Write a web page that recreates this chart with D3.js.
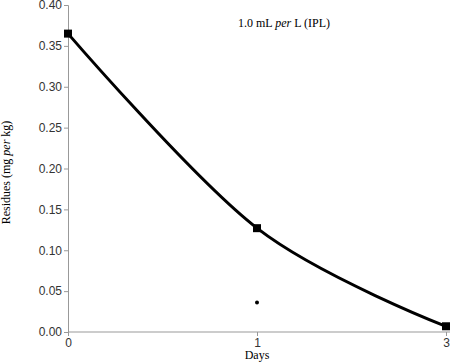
<!DOCTYPE html>
<html>
<head>
<meta charset="utf-8">
<script src="https://cdn.jsdelivr.net/npm/d3@7"></script>
<style>
  body { margin: 0; background: #fff; }
  svg { display: block; }
</style>
</head>
<body>
<div id="chart"></div>
<script>
const days = ["0", "1", "3"]
const residues = [0.365, 0.127, 0.007]
const extraDays = ["1"]
const extraValues = [0.036]
const yTicks = [0, 0.05, 0.10, 0.15, 0.20, 0.25, 0.30, 0.35, 0.40]

const width = 450, height = 362
const margin = {top: 5, right: 4, bottom: 30, left: 68}

const sans = "'Liberation Sans', Arial, sans-serif"
const serif = "'Liberation Serif', 'Times New Roman', serif"

const svg = d3.select("#chart").append("svg")
  .attr("width", width)
  .attr("height", height)

const x = d3.scalePoint()
  .domain(days)
  .range([margin.left, width - margin.right])

const y = d3.scaleLinear()
  .domain([0, 0.40])
  .range([height - margin.bottom, margin.top])

const axisColor = "#999"

// y axis
const gy = svg.append("g")
  .attr("transform", `translate(${margin.left},0)`)
  .call(d3.axisLeft(y).tickValues(yTicks).tickFormat(d3.format(".2f")).tickSize(4).tickPadding(2))
gy.select(".domain").attr("stroke", axisColor)
gy.selectAll(".tick line").attr("stroke", axisColor)
gy.selectAll(".tick text")
  .attr("font-family", sans)
  .attr("font-size", 12)
  .attr("fill", "#333")

// x axis
const gx = svg.append("g")
  .attr("transform", `translate(0,${y(0)})`)
  .call(d3.axisBottom(x).tickSize(4).tickPadding(2))
gx.select(".domain")
  .attr("stroke", axisColor)
  .attr("d", `M${margin.left},0H${width}`)
gx.selectAll(".tick line").attr("stroke", axisColor)
gx.selectAll(".tick text")
  .attr("font-family", sans)
  .attr("font-size", 12)
  .attr("fill", "#333")

// axis titles
svg.append("text")
  .attr("x", x("1"))
  .attr("y", 359)
  .attr("text-anchor", "middle")
  .attr("font-family", serif)
  .attr("font-size", 12)
  .text("Days")

const yTitle = svg.append("text")
  .attr("transform", `translate(10,${(y(0) + y(0.4)) / 2 + 4}) rotate(-90)`)
  .attr("text-anchor", "middle")
  .attr("font-family", serif)
  .attr("font-size", 12)
yTitle.append("tspan").text("Residues (mg ")
yTitle.append("tspan").attr("font-style", "italic").text("per")
yTitle.append("tspan").text(" kg)")

// annotation
const note = svg.append("text")
  .attr("x", 284)
  .attr("y", 27)
  .attr("text-anchor", "middle")
  .attr("font-family", serif)
  .attr("font-size", 12)
note.append("tspan").text("1.0 mL ")
note.append("tspan").attr("font-style", "italic").text("per")
note.append("tspan").text(" L (IPL)")

// smoothed curve
const line = d3.line()
  .x((d, i) => x(days[i]))
  .y(d => y(d))
  .curve(d3.curveCardinal.tension(0))

svg.append("path")
  .datum(residues)
  .attr("d", line)
  .attr("fill", "none")
  .attr("stroke", "#000")
  .attr("stroke-width", 3)

// square markers
svg.append("g").selectAll("rect")
  .data(residues)
  .join("rect")
    .attr("x", (d, i) => x(days[i]) - 4)
    .attr("y", d => y(d) - 4)
    .attr("width", 8)
    .attr("height", 8)
    .attr("fill", "#000")

// small dot
svg.append("g").selectAll("circle")
  .data(extraValues)
  .join("circle")
    .attr("cx", (d, i) => x(extraDays[i]))
    .attr("cy", d => y(d))
    .attr("r", 2)
    .attr("fill", "#000")
</script>
</body>
</html>
